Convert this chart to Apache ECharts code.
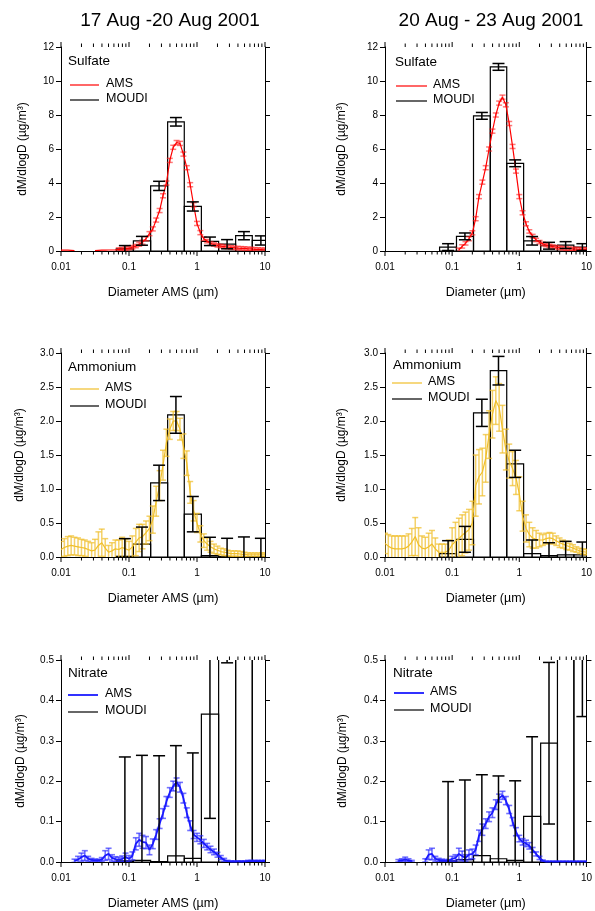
<!DOCTYPE html>
<html><head><meta charset="utf-8">
<script src="https://cdn.jsdelivr.net/npm/echarts@6/dist/echarts.min.js"></script>
<style>html,body{margin:0;padding:0;background:#fff}#c{width:595px;height:911px}</style>
</head><body><div id="c"></div>
<script>
// ---------- DATA ----------
const diameters = [0.01,0.0112,0.0126,0.0141,0.0158,0.0178,0.02,0.0224,0.0251,0.0282,
0.0316,0.0355,0.0398,0.0447,0.0501,0.0562,0.0631,0.0708,0.0794,0.0891,
0.1,0.112,0.126,0.141,0.158,0.178,0.2,0.224,0.251,0.282,
0.316,0.355,0.398,0.447,0.501,0.562,0.631,0.708,0.794,0.891,
1,1.12,1.26,1.41,1.58,1.78,2,2.24,2.51,2.82,
3.16,3.55,3.98,4.47,5.01,5.62,6.31,7.08,7.94,8.91,10];

const xTickLabels = ['0.01','0.1','1','10'];
const majorTicks = [0.01,0.1,1,10];
const minorTicks = [0.02,0.03,0.04,0.05,0.06,0.07,0.08,0.09,0.2,0.3,0.4,0.5,0.6,0.7,0.8,0.9,2,3,4,5,6,7,8,9];

const moudiEdges = [0.065,0.116,0.208,0.37,0.65,1.16,2.08,3.7,6.5,11.6];
const moudiMid = [0.087,0.155,0.277,0.49,0.868,1.55,2.77,4.9,8.7];

const amsSulfate1 = [0.05,0.05,0.05,0.04,0.03,null,null,null,null,null,
0.03,0.04,0.05,0.05,0.06,0.06,0.07,0.09,0.11,0.14,
0.17,0.22,0.29,0.40,0.52,0.72,1.02,1.30,1.82,2.38,
3.25,4.0,5.33,6.1,6.38,6.33,5.7,4.9,3.9,2.72,
1.62,1.08,0.72,0.58,0.45,0.38,0.33,0.29,0.26,0.23,
0.21,0.19,0.17,0.16,0.15,0.13,0.12,0.10,0.09,0.08,0.07];
const errSulfate1 = [null,null,null,null,null,null,null,null,null,null,
null,null,null,null,null,null,null,0.1,0.1,0.1,
0.1,0.1,0.1,0.12,0.12,0.12,0.12,0.12,0.12,0.12,
0.12,0.12,0.12,0.12,0.12,0.12,0.12,0.12,0.12,0.12,
0.12,0.12,0.1,0.1,0.1,0.1,0.1,0.1,0.1,0.1,
0.1,0.1,0.1,0.1,0.1,0.1,0.1,0.1,0.1,0.1,0.1];
const moudiSulfate1 = [0.12,0.6,3.83,7.6,2.62,0.57,0.4,0.9,0.62];
const moudiErrSulfate1 = [0.2,0.26,0.27,0.25,0.27,0.25,0.27,0.24,0.27];

const amsSulfate2 = [null,null,null,null,null,null,null,null,null,null,
null,null,null,null,null,null,null,null,null,null,
null,null,0.07,0.27,0.45,0.72,1.07,1.9,3.2,4.05,
4.9,6.0,7.05,8.0,8.7,9.05,8.6,7.5,6.15,4.7,
3.2,2.25,1.6,1.15,0.88,0.65,0.52,0.42,0.35,0.30,
0.26,0.22,0.19,0.16,0.14,0.13,0.12,0.11,0.10,0.09,0.09];
const errSulfate2 = [null,null,null,null,null,null,null,null,null,null,
null,null,null,null,null,null,null,null,null,null,
null,null,0.1,0.1,0.1,0.12,0.12,0.12,0.12,0.12,
0.12,0.12,0.12,0.12,0.12,0.12,0.12,0.12,0.12,0.12,
0.12,0.12,0.12,0.1,0.1,0.1,0.1,0.1,0.1,0.1,
0.1,0.1,0.1,0.1,0.1,0.1,0.1,0.1,0.1,0.1,0.1];
const moudiSulfate2 = [0.23,0.86,7.95,10.83,5.16,0.6,0.31,0.35,0.23];
const moudiErrSulfate2 = [0.2,0.2,0.2,0.2,0.2,0.25,0.2,0.2,0.2];

const amsAmmonium1 = [0.11,0.14,0.16,0.17,0.16,0.15,0.14,0.13,0.11,0.09,
0.10,0.17,0.21,0.13,0.07,0.09,0.12,0.11,0.14,0.12,
0.10,0.15,0.22,0.28,0.30,0.36,0.42,0.55,0.82,1.05,
1.35,1.68,1.88,2.00,2.00,1.88,1.63,1.38,0.95,0.68,
0.50,0.34,0.24,0.19,0.15,0.12,0.10,0.08,0.07,0.06,
0.05,0.05,0.05,0.04,0.04,0.03,0.03,0.03,0.03,0.03,0.03];
const errAmmonium1 = [0.12,0.13,0.14,0.14,0.13,0.13,0.12,0.12,0.12,0.12,
0.16,0.2,0.2,0.14,0.1,0.12,0.13,0.14,0.15,0.14,
0.13,0.16,0.2,0.2,0.18,0.17,0.18,0.2,0.22,0.22,
0.22,0.2,0.15,0.14,0.14,0.16,0.18,0.18,0.16,0.15,
0.14,0.12,0.1,0.09,0.08,0.07,0.06,0.05,0.05,0.04,
0.04,0.04,0.04,0.04,0.03,0.03,0.03,0.03,0.03,0.03,0.03];
const moudiAmmonium1 = [0.01,0.19,1.09,2.09,0.63,0.02,0.005,0.005,0.005];
const moudiErrAmmonium1 = [0.26,0.25,0.26,0.27,0.26,0.27,0.27,0.29,0.27];

const amsAmmonium2 = [0.20,0.16,0.13,0.12,0.12,0.12,0.13,0.16,0.22,0.30,
0.18,0.13,0.12,0.15,0.19,0.12,0.07,0.07,0.07,0.10,
0.18,0.23,0.27,0.32,0.36,0.40,0.50,1.05,1.18,1.25,
1.45,1.80,2.10,2.30,2.20,1.88,1.58,1.41,1.30,1.17,
0.93,0.60,0.42,0.33,0.28,0.26,0.25,0.25,0.27,0.28,
0.27,0.24,0.21,0.19,0.17,0.15,0.13,0.11,0.09,0.08,0.07];
const errAmmonium2 = [0.15,0.17,0.18,0.19,0.19,0.19,0.18,0.18,0.2,0.28,
0.25,0.18,0.17,0.2,0.2,0.16,0.12,0.12,0.12,0.15,
0.25,0.28,0.3,0.3,0.3,0.3,0.32,0.45,0.4,0.35,
0.35,0.35,0.35,0.35,0.35,0.35,0.3,0.25,0.25,0.25,
0.25,0.22,0.2,0.18,0.15,0.13,0.1,0.08,0.08,0.08,
0.08,0.07,0.07,0.06,0.06,0.05,0.05,0.04,0.04,0.04,0.04];
const moudiAmmonium2 = [0.05,0.26,2.12,2.74,1.37,0.05,0.02,0.03,0.03];
const moudiErrAmmonium2 = [0.19,0.19,0.2,0.21,0.2,0.2,0.19,0.2,0.19];

const amsNitrate1 = [null,null,null,null,0.003,0.006,0.012,0.016,0.008,0.005,
0.004,0.004,0.006,0.016,0.020,0.010,0.007,0.006,0.008,0.012,
0.008,0.015,0.045,0.055,0.050,0.048,0.030,0.045,0.068,0.095,
0.120,0.150,0.172,0.188,0.198,0.185,0.158,0.122,0.090,0.068,
0.061,0.055,0.046,0.038,0.031,0.025,0.018,0.011,0.005,0.002,
0.001,0.001,0.001,0.001,0.001,0.002,0.002,0.002,0.002,0.002,0.002];
const errNitrate1 = [null,null,null,null,0.004,0.008,0.01,0.012,0.006,0.004,
0.003,0.003,0.005,0.012,0.014,0.008,0.006,0.006,0.007,0.01,
0.008,0.01,0.015,0.016,0.016,0.015,0.012,0.012,0.012,0.012,
0.012,0.012,0.012,0.012,0.01,0.012,0.012,0.012,0.012,0.01,
0.01,0.01,0.01,0.008,0.008,0.007,0.006,0.005,0.004,0.002,
0.002,0.002,0.002,0.002,0.002,0.002,0.002,0.002,0.002,0.002,0.002];
const moudiNitrate1 = [0.003,0.004,0.001,0.015,0.009,0.366,0.75,1.0,1.0];
const moudiErrNitrate1 = [0.257,0.26,0.262,0.273,0.261,0.258,0.257,0.26,0.26];

const amsNitrate2 = [null,null,null,null,0.003,0.004,0.006,0.004,0.002,null,
null,null,0.004,0.018,0.020,0.008,0.005,0.004,0.003,0.003,
0.008,0.010,0.020,0.015,0.010,0.018,0.020,0.030,0.065,0.080,
0.095,0.112,0.122,0.142,0.158,0.165,0.152,0.130,0.100,0.075,
0.058,0.050,0.046,0.040,0.030,0.020,0.010,0.003,0.001,0.001,
0.001,0.001,0.001,0.001,0.001,0.001,0.001,0.001,0.001,0.001,0.001];
const errNitrate2 = [null,null,null,null,0.003,0.004,0.006,0.004,0.002,null,
null,null,0.004,0.012,0.014,0.006,0.004,0.003,0.003,0.003,
0.006,0.008,0.014,0.012,0.008,0.012,0.012,0.012,0.014,0.014,
0.012,0.012,0.012,0.012,0.01,0.01,0.01,0.01,0.01,0.01,
0.008,0.008,0.008,0.008,0.006,0.005,0.004,0.002,0.001,0.001,
0.001,0.001,0.001,0.001,0.001,0.001,0.001,0.001,0.001,0.001,0.001];
const moudiNitrate2 = [0.003,0.006,0.016,0.008,0.004,0.113,0.294,0.9,0.56];
const moudiErrNitrate2 = [0.196,0.197,0.2,0.205,0.197,0.197,0.2,0.2,0.2];

const titles = ['17 Aug -20 Aug 2001', '20 Aug - 23 Aug 2001'];
const species = ['Sulfate','Sulfate','Ammonium','Ammonium','Nitrate','Nitrate'];
const xNames = ['Diameter AMS (µm)','Diameter (µm)','Diameter AMS (µm)','Diameter (µm)','Diameter AMS (µm)','Diameter (µm)'];
const yName = 'dM/dlogD (µg/m³)';
const yMax = [12,12,3,3,0.5,0.5];
const yInterval = [2,2,0.5,0.5,0.1,0.1];

// ---------- LAYOUT / STYLE ----------
const FONT = 'Liberation Sans, Arial, sans-serif';
const panels = [
  {ams:amsSulfate1, err:errSulfate1, mou:moudiSulfate1, mErr:moudiErrSulfate1},
  {ams:amsSulfate2, err:errSulfate2, mou:moudiSulfate2, mErr:moudiErrSulfate2},
  {ams:amsAmmonium1, err:errAmmonium1, mou:moudiAmmonium1, mErr:moudiErrAmmonium1},
  {ams:amsAmmonium2, err:errAmmonium2, mou:moudiAmmonium2, mErr:moudiErrAmmonium2},
  {ams:amsNitrate1, err:errNitrate1, mou:moudiNitrate1, mErr:moudiErrNitrate1},
  {ams:amsNitrate2, err:errNitrate2, mou:moudiNitrate2, mErr:moudiErrNitrate2}
];
const styles = [
  {line:'#ff0000', err:'rgba(255,30,30,0.6)', lw:1.2, elw:1.5},
  {line:'#ff0000', err:'rgba(255,30,30,0.6)', lw:1.2, elw:1.5},
  {line:'#f0bf2a', err:'rgba(240,190,40,0.7)', lw:1.2, elw:1.5},
  {line:'#f0bf2a', err:'rgba(240,190,40,0.7)', lw:1.2, elw:1.5},
  {line:'#1a1aff', err:'rgba(40,40,255,0.65)', lw:1.8, elw:1.6},
  {line:'#1a1aff', err:'rgba(40,40,255,0.65)', lw:1.8, elw:1.6}
];
const gridPos = [[61,47],[385,47],[61,353],[385,353],[61,660],[385,660]];
const GW = 204, GH = 204;
const yNameGap = [32,37,35,37,34,36];
const legendPos = [
  {tx:68, ty:62, ly1:85, ly2:100, lx1:70, lx2:99, textX:106},
  {tx:395, ty:63, ly1:86, ly2:101, lx1:396, lx2:427, textX:433},
  {tx:68, ty:368, ly1:389, ly2:406, lx1:70, lx2:99, textX:105},
  {tx:393, ty:366, ly1:383, ly2:399, lx1:392, lx2:422, textX:428},
  {tx:68, ty:674, ly1:695, ly2:712, lx1:68, lx2:98, textX:105},
  {tx:393, ty:674, ly1:693, ly2:710, lx1:394, lx2:424, textX:430}
];

const grid = [], xAxis = [], yAxis = [], series = [], graphic = [];

function errRender(capHalf, color, lw) {
  return function (params, api) {
    const x = api.value(0), y = api.value(1), e = api.value(2);
    const pt = api.coord([x, y + e]), pb = api.coord([x, y - e]);
    const st = {stroke: color, lineWidth: lw};
    return {type:'group', children:[
      {type:'line', shape:{x1:pt[0], y1:pt[1], x2:pb[0], y2:pb[1]}, style:st},
      {type:'line', shape:{x1:pt[0]-capHalf, y1:pt[1], x2:pt[0]+capHalf, y2:pt[1]}, style:st},
      {type:'line', shape:{x1:pb[0]-capHalf, y1:pb[1], x2:pb[0]+capHalf, y2:pb[1]}, style:st}
    ]};
  };
}

panels.forEach((p, i) => {
  const s = styles[i];
  grid.push({left: gridPos[i][0], top: gridPos[i][1], width: GW, height: GH});
  const fmtY = v => (yInterval[i] < 1 ? v.toFixed(1) : String(v));
  xAxis.push({
    type:'log', logBase:10, gridIndex:i, min:0.01, max:10, position:'bottom',
    name: xNames[i], nameLocation:'middle', nameGap:35,
    nameTextStyle:{fontSize:12.5, color:'#000', fontFamily:FONT},
    axisLine:{show:true, lineStyle:{color:'#000', width:1}},
    axisTick:{show:false},
    axisLabel:{color:'#000', fontSize:10, margin:11, fontFamily:FONT,
      formatter: v => { const k = Math.round(Math.log10(v)) + 2; return xTickLabels[k] || ''; }},
    splitLine:{show:false}, minorTick:{show:false}
  });
  xAxis.push({
    type:'log', logBase:10, gridIndex:i, min:0.01, max:10, position:'top',
    axisLine:{show:true, lineStyle:{color:'#000', width:1}},
    axisTick:{show:false},
    axisLabel:{show:false}, splitLine:{show:false}
  });
  yAxis.push({
    type:'value', gridIndex:i, min:0, max:yMax[i], interval:yInterval[i], position:'left',
    name: yName, nameLocation:'middle', nameGap: yNameGap[i], nameRotate:90,
    nameTextStyle:{fontSize:12, color:'#000', fontFamily:FONT},
    axisLine:{show:true, lineStyle:{color:'#000', width:1}},
    axisTick:{show:true, length:5, lineStyle:{color:'#000', width:1}},
    axisLabel:{color:'#000', fontSize:10, margin:7, fontFamily:FONT, formatter: fmtY},
    splitLine:{show:false}
  });
  yAxis.push({
    type:'value', gridIndex:i, min:0, max:yMax[i], interval:yInterval[i], position:'right',
    axisLine:{show:true, lineStyle:{color:'#000', width:1}},
    axisTick:{show:true, length:5, lineStyle:{color:'#000', width:1}},
    axisLabel:{show:false}, splitLine:{show:false}
  });
  const xi = 2*i, yi = 2*i;
  // MOUDI bars
  series.push({
    type:'custom', xAxisIndex:xi, yAxisIndex:yi, clip:true, z:2, silent:true,
    data: p.mou.map((v, k) => [moudiEdges[k], moudiEdges[k+1], v]),
    encode:{x:[0,1], y:2},
    renderItem: (params, api) => {
      const p0 = api.coord([api.value(0), 0]), p1 = api.coord([api.value(1), api.value(2)]);
      return {type:'rect', shape:{x:p0[0], y:p1[1], width:p1[0]-p0[0], height:p0[1]-p1[1]},
        style:{fill:'none', stroke:'#000', lineWidth:1.2}};
    }
  });
  // AMS line
  series.push({
    type:'line', xAxisIndex:xi, yAxisIndex:yi, showSymbol:false, symbol:'none', z:3,
    data: diameters.map((d, k) => [d, p.ams[k] == null ? '-' : p.ams[k]]),
    lineStyle:{color:s.line, width:s.lw}, itemStyle:{color:s.line}, connectNulls:false, clip:true
  });
  // AMS error bars
  const ed = [];
  diameters.forEach((d, k) => { if (p.ams[k] != null && p.err[k] != null) ed.push([d, p.ams[k], p.err[k]]); });
  series.push({
    type:'custom', xAxisIndex:xi, yAxisIndex:yi, clip:true, z:3, silent:true,
    data: ed, encode:{x:0, y:1}, renderItem: errRender(3, s.err, s.elw)
  });
  // MOUDI error bars
  series.push({
    type:'custom', xAxisIndex:xi, yAxisIndex:yi, clip:true, z:4, silent:true,
    data: p.mou.map((v, k) => [moudiMid[k], v, p.mErr[k]]), encode:{x:0, y:1},
    renderItem: errRender(6, '#000', 1.5)
  });
  // log ticks (major + minor) on bottom & top axes
  const ym = yMax[i];
  const tickData = majorTicks.map(v => [v, 0, 5]).concat(minorTicks.map(v => [v, 0, 3.5]));
  series.push({
    type:'custom', xAxisIndex:xi, yAxisIndex:yi, clip:false, z:5, silent:true,
    data: tickData, encode:{x:0, y:1},
    renderItem: (params, api) => {
      const len = api.value(2);
      const b = api.coord([api.value(0), 0]), t = api.coord([api.value(0), ym]);
      const st = {stroke:'#000', lineWidth:1};
      return {type:'group', children:[
        {type:'line', shape:{x1:b[0], y1:b[1], x2:b[0], y2:b[1]+len}, style:st},
        {type:'line', shape:{x1:t[0], y1:t[1], x2:t[0], y2:t[1]-len}, style:st}
      ]};
    }
  });
  // legend (graphic)
  const L = legendPos[i];
  graphic.push({type:'text', left:L.tx, top:L.ty - 8, style:{text:species[i], font:'13.5px ' + FONT, fill:'#000'}});
  graphic.push({type:'line', shape:{x1:L.lx1, y1:L.ly1, x2:L.lx2, y2:L.ly1}, style:{stroke:s.line, lineWidth:s.lw}});
  graphic.push({type:'text', left:L.textX, top:L.ly1 - 7.5, style:{text:'AMS', font:'12.5px ' + FONT, fill:'#000'}});
  graphic.push({type:'line', shape:{x1:L.lx1, y1:L.ly2, x2:L.lx2, y2:L.ly2}, style:{stroke:'#000', lineWidth:1.2}});
  graphic.push({type:'text', left:L.textX, top:L.ly2 - 7.5, style:{text:'MOUDI', font:'12.5px ' + FONT, fill:'#000'}});
});

const chart = echarts.init(document.getElementById('c'), null, {renderer:'canvas'});
chart.setOption({
  animation:false,
  backgroundColor:'#fff',
  title:[
    {text:titles[0], left:165, top:6, textAlign:'center', textStyle:{fontSize:19, fontWeight:'normal', color:'#000', fontFamily:FONT}},
    {text:titles[1], left:486, top:6, textAlign:'center', textStyle:{fontSize:19, fontWeight:'normal', color:'#000', fontFamily:FONT}}
  ],
  grid, xAxis, yAxis, series, graphic
});
</script></body></html>
